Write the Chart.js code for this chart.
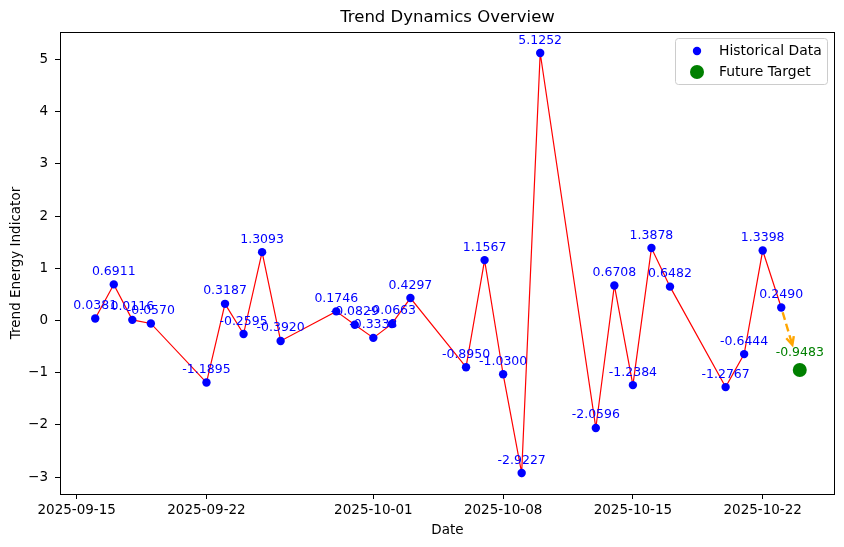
<!DOCTYPE html>
<html>
<head>
<meta charset="utf-8">
<script src="https://cdn.jsdelivr.net/npm/chart.js@4.4.1/dist/chart.umd.min.js"></script>
<style>
  html, body { margin: 0; padding: 0; background: #fff; }
  #wrap { width: 844px; height: 547px; }
</style>
</head>
<body>
<div id="wrap"><canvas id="myChart" width="844" height="547"></canvas></div>
<script>
// data
var dates = ['2025-09-16', '2025-09-17', '2025-09-18', '2025-09-19', '2025-09-22', '2025-09-23',
    '2025-09-24', '2025-09-25', '2025-09-26', '2025-09-29', '2025-09-30', '2025-10-01',
    '2025-10-02', '2025-10-03', '2025-10-06', '2025-10-07', '2025-10-08', '2025-10-09',
    '2025-10-10', '2025-10-13', '2025-10-14', '2025-10-15', '2025-10-16', '2025-10-17',
    '2025-10-20', '2025-10-21', '2025-10-22', '2025-10-23'];
var values = [0.0381, 0.6911, 0.0116, -0.0570, -1.1895, 0.3187, -0.2595, 1.3093, -0.3920,
    0.1746, -0.0829, -0.3333, -0.0663, 0.4297, -0.8950, 1.1567, -1.0300, -2.9227, 5.1252,
    -2.0596, 0.6708, -1.2384, 1.3878, 0.6482, -1.2767, -0.6444, 1.3398, 0.2490];
var targetDate = '2025-10-24';
var targetValue = -0.9483;
var xTickLabels = ['2025-09-15', '2025-09-22', '2025-10-01', '2025-10-08', '2025-10-15', '2025-10-22'];
var yTicks = [-3, -2, -1, 0, 1, 2, 3, 4, 5];

var FONT = "'DejaVu Sans', sans-serif";

function dayNum(s) {
    var p = s.split('-');
    return Date.UTC(+p[0], +p[1] - 1, +p[2]) / 86400000;
}
function dayStr(d) {
    return new Date(Math.round(d) * 86400000).toISOString().slice(0, 10);
}

var hist = dates.map(function(d, i) { return { x: dayNum(d), y: values[i] }; });
var target = [{ x: dayNum(targetDate), y: targetValue }];

var xLo = hist[0].x, xHi = target[0].x;
var xPad = (xHi - xLo) * 0.05;
var yLo = Math.min.apply(null, values.concat([targetValue]));
var yHi = Math.max.apply(null, values.concat([targetValue]));
var yPad = (yHi - yLo) * 0.05;

function fmtMinus(v) { return String(v).replace('-', '\u2212'); }

var extras = {
    id: 'extras',
    afterDatasetsDraw: function(chart) {
        var ctx = chart.ctx;
        var xs = chart.scales.x, ys = chart.scales.y;
        var a = chart.chartArea;
        ctx.save();
        // title, centred over the plot area
        ctx.fillStyle = '#000';
        ctx.font = '16.5px ' + FONT;
        ctx.textAlign = 'center';
        ctx.textBaseline = 'middle';
        ctx.fillText('Trend Dynamics Overview', (a.left + a.right) / 2, 18);

        // value labels
        ctx.font = '12.5px ' + FONT;
        ctx.textAlign = 'center';
        ctx.textBaseline = 'alphabetic';
        ctx.fillStyle = '#0000ff';
        hist.forEach(function(p, i) {
            ctx.fillText(values[i].toFixed(4), xs.getPixelForValue(p.x), ys.getPixelForValue(p.y) - 9.5);
        });
        ctx.fillStyle = '#008000';
        ctx.fillText(targetValue.toFixed(4), xs.getPixelForValue(target[0].x), ys.getPixelForValue(target[0].y) - 13.5);

        // dashed arrow from last point toward target
        var last = hist[hist.length - 1];
        var x0 = xs.getPixelForValue(last.x), y0 = ys.getPixelForValue(last.y);
        var x1 = xs.getPixelForValue(target[0].x), y1 = ys.getPixelForValue(target[0].y);
        var dx = x1 - x0, dy = y1 - y0, len = Math.sqrt(dx * dx + dy * dy);
        var ux = dx / len, uy = dy / len;
        var sx = x0 + ux * 5, sy = y0 + uy * 5;
        var ex = x0 + ux * (len * 0.6), ey = y0 + uy * (len * 0.6);
        ctx.strokeStyle = '#ffa500';
        ctx.lineWidth = 2.4;
        ctx.setLineDash([8, 4]);
        ctx.beginPath();
        ctx.moveTo(sx, sy);
        ctx.lineTo(ex, ey);
        ctx.stroke();
        ctx.setLineDash([]);
        var ang = Math.atan2(uy, ux);
        ctx.beginPath();
        ctx.moveTo(ex - 9 * Math.cos(ang - 0.45), ey - 9 * Math.sin(ang - 0.45));
        ctx.lineTo(ex, ey);
        ctx.lineTo(ex - 9 * Math.cos(ang + 0.45), ey - 9 * Math.sin(ang + 0.45));
        ctx.stroke();

        // frame
        ctx.strokeStyle = '#000';
        ctx.lineWidth = 1;
        ctx.strokeRect(Math.round(a.left) + 0.5, Math.round(a.top) + 0.5,
            Math.round(a.right - a.left) - 1, Math.round(a.bottom - a.top));

        // legend
        var lw = 152, lh = 46;
        var lx = a.right - 8 - lw, ly = a.top + 6;
        ctx.fillStyle = 'rgba(255,255,255,0.8)';
        ctx.strokeStyle = '#cccccc';
        ctx.beginPath();
        ctx.roundRect(lx + 0.5, ly + 0.5, lw, lh, 3);
        ctx.fill();
        ctx.stroke();
        ctx.fillStyle = '#0000ff';
        ctx.beginPath();
        ctx.arc(lx + 22, ly + 13, 4.2, 0, Math.PI * 2);
        ctx.fill();
        ctx.fillStyle = '#008000';
        ctx.beginPath();
        ctx.arc(lx + 22, ly + 34, 7, 0, Math.PI * 2);
        ctx.fill();
        ctx.fillStyle = '#000';
        ctx.font = '13.9px ' + FONT;
        ctx.textAlign = 'left';
        ctx.textBaseline = 'middle';
        ctx.fillText('Historical Data', lx + 44, ly + 13);
        ctx.fillText('Future Target', lx + 44, ly + 34);
        ctx.restore();
    }
};

var ctx = document.getElementById('myChart').getContext('2d');
var myChart = new Chart(ctx, {
    type: 'line',
    data: {
        datasets: [{
            label: 'Historical Data',
            data: hist,
            borderColor: '#ff0000',
            borderWidth: 1.2,
            pointBackgroundColor: '#0000ff',
            pointBorderColor: '#0000ff',
            pointRadius: 4.2,
            pointBorderWidth: 0,
            tension: 0
        }, {
            type: 'scatter',
            label: 'Future Target',
            data: target,
            backgroundColor: '#008000',
            borderColor: '#008000',
            pointRadius: 7,
            borderWidth: 0
        }]
    },
    options: {
        responsive: false,
        animation: false,
        events: [],
        layout: { padding: { left: 0, right: 9, top: 32, bottom: 0 } },
        plugins: {
            legend: { display: false },
            tooltip: { enabled: false },
            title: { display: false }
        },
        scales: {
            x: {
                type: 'linear',
                min: xLo - xPad,
                max: xHi + xPad,
                afterBuildTicks: function(axis) {
                    axis.ticks = xTickLabels.map(function(t) { return { value: dayNum(t) }; });
                },
                afterFit: function(axis) { axis.height = 53; },
                ticks: {
                    color: '#000',
                    font: { family: FONT, size: 13.5 },
                    padding: 3,
                    maxRotation: 0,
                    autoSkip: false,
                    callback: function(v) { return dayStr(v); }
                },
                grid: { display: true, drawOnChartArea: false, drawTicks: true, tickLength: 5, color: '#000' },
                border: { display: false },
                title: {
                    display: true,
                    text: 'Date',
                    color: '#000',
                    font: { family: FONT, size: 13.5 },
                    padding: { top: 2, bottom: 8 }
                }
            },
            y: {
                min: yLo - yPad,
                max: yHi + yPad,
                afterBuildTicks: function(axis) {
                    axis.ticks = yTicks.map(function(v) { return { value: v }; });
                },
                afterFit: function(axis) { axis.width = 60; },
                ticks: {
                    color: '#000',
                    font: { family: FONT, size: 13.5 },
                    padding: 7,
                    callback: function(v) { return fmtMinus(v); }
                },
                grid: { display: true, drawOnChartArea: false, drawTicks: true, tickLength: 5, color: '#000' },
                border: { display: false },
                title: {
                    display: true,
                    text: 'Trend Energy Indicator',
                    color: '#000',
                    font: { family: FONT, size: 13.5 },
                    padding: { top: 8, bottom: 0 }
                }
            }
        }
    },
    plugins: [extras]
});
</script>
</body>
</html>
